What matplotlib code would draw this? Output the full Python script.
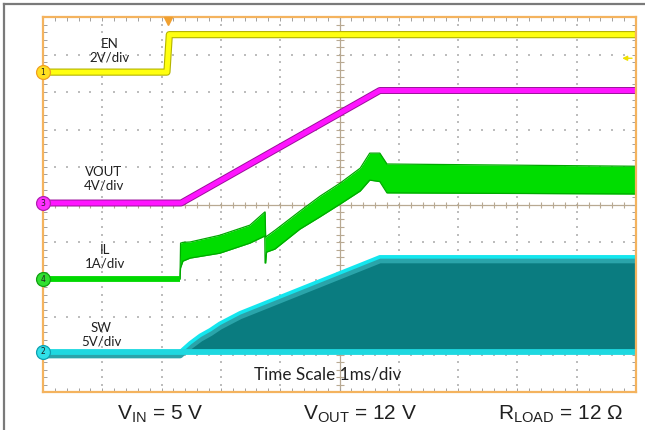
import numpy as np
import matplotlib
matplotlib.use("Agg")
import matplotlib.pyplot as plt
from matplotlib.lines import Line2D

# ---------------- data (time in ms, 1 ms/div) ----------------
EN_t = [0, 2.09, 2.13, 10]
EN_v = [0, 0, 2.0, 2.0]              # V, 2 V/div

VOUT_t = [0, 2.33, 5.68, 10]
VOUT_v = [0, 0, 12.0, 12.0]          # V, 4 V/div

IL_t  = [0, 2.31, 2.32, 2.36, 2.48, 2.98, 3.49, 3.74, 3.745, 3.755, 3.77, 3.91, 4.33, 4.67, 5.01, 5.35, 5.51, 5.68, 5.80, 10]
IL_hi = [0, 0, 0.96, 0.98, 0.99, 1.17, 1.44, 1.79, 1.79, 1.12, 1.14, 1.30, 1.81, 2.21, 2.56, 2.96, 3.36, 3.36, 3.07, 3.01]
IL_lo = [0, 0, 0.30, 0.48, 0.56, 0.69, 0.96, 1.15, 0.43, 0.43, 0.72, 0.80, 1.33, 1.66, 2.00, 2.35, 2.64, 2.60, 2.30, 2.27]   # A, 1 A/div

SW_t  = [0, 2.31, 2.48, 2.65, 2.82, 2.98, 3.32, 5.68, 10]
SW_hi = [0, 0, 1.2, 2.2, 2.95, 3.8, 5.2, 12.67, 12.67]     # V, 5 V/div

labels = ["EN\n2V/div", "VOUT\n4V/div", "IL\n1A/div", "SW\n5V/div"]
time_label = "Time Scale 1ms/div"
cond_labels = [r"$\mathregular{V_{IN}}$ = 5 V", r"$\mathregular{V_{OUT}}$ = 12 V", r"$\mathregular{R_{LOAD}}$ = 12 Ω"]

# channel offsets (divisions) and scales (units/div)
EN_off, EN_sc = 8.53, 2.0
VO_off, VO_sc = 5.04, 4.0
IL_off, IL_sc = 3.01, 1.0
SW_off, SW_sc = 1.07, 5.0

W, H = 645, 430
fig = plt.figure(figsize=(W / 100, H / 100), dpi=100)
fig.patch.set_facecolor("white")

# outer gray border (top + left visible)
fig.add_artist(Line2D([4 / W, 1.0], [1 - 4 / H, 1 - 4 / H], color="#7a7a7a", lw=1.6))
fig.add_artist(Line2D([4 / W, 4 / W], [0, 1 - 4 / H], color="#7a7a7a", lw=1.6))

ax = fig.add_axes([43 / W, 38 / H, 593 / W, 375 / H])
ax.set_xlim(0, 10)
ax.set_ylim(0, 10)
ax.set_facecolor("white")
for s in ax.spines.values():
    s.set_color("#f4b35e")
    s.set_linewidth(1.6)
    s.set_zorder(6)
ax.set_xticks(np.arange(0, 10.01, 0.2))
ax.set_yticks(np.arange(0, 10.01, 0.2))
ax.tick_params(which="both", direction="in", length=3, width=0.7, color="#a0a0a0",
               top=True, right=True, labelbottom=False, labelleft=False)

# dotted grid
pts = np.arange(0, 10.001, 0.2)
for k in range(1, 10):
    if k == 5:
        continue
    ax.scatter(pts, np.full_like(pts, k), s=0.9, marker="s", color="#bdbdbd", lw=0, zorder=1)
    ax.scatter(np.full_like(pts, k), pts, s=0.9, marker="s", color="#bdbdbd", lw=0, zorder=1)
# center lines with ticks
ax.axhline(5, color="#b8a992", lw=0.9, zorder=1)
ax.axvline(5, color="#b8a992", lw=0.9, zorder=1)
ax.plot(pts, np.full_like(pts, 5), ls="none", marker="|", ms=5, mew=0.8, color="#b8a992", zorder=1)
ax.plot(np.full_like(pts, 5), pts, ls="none", marker="_", ms=6, mew=0.8, color="#b8a992", zorder=1)

# ---------------- traces ----------------
t = np.array
# SW
sw_t = t(SW_t); sw_y = SW_off + t(SW_hi) / SW_sc
ax.fill_between(sw_t, SW_off, sw_y, color="#0a7c80", lw=0, zorder=2)
ax.plot(sw_t, sw_y - 0.08, color="#2aa4aa", lw=5, solid_capstyle="butt", zorder=2)
ax.plot(sw_t, sw_y, color="#14e6ee", lw=2.6, solid_capstyle="butt", zorder=3)
ax.plot([0, 10], [SW_off, SW_off], color="#1ed8e0", lw=4.2, solid_capstyle="butt", zorder=3)

# IL
il_t = t(IL_t)
il_hi = IL_off + t(IL_hi) / IL_sc
il_lo = IL_off + t(IL_lo) / IL_sc
ax.fill_between(il_t, il_lo, il_hi, color="#00dd00", lw=0, zorder=3)
ax.plot(il_t, il_hi, color="#00a800", lw=0.9, zorder=3)
ax.plot(il_t, il_lo, color="#00a800", lw=0.9, zorder=3)
ax.plot([0, IL_t[1]], [IL_off, IL_off], color="#00d800", lw=4.2, solid_capstyle="butt", zorder=3)

# VOUT
vo_y = VO_off + t(VOUT_v) / VO_sc
ax.plot(VOUT_t, vo_y, color="#9a109a", lw=5.0, solid_capstyle="butt", zorder=4)
ax.plot(VOUT_t, vo_y, color="#ff14ff", lw=3.6, solid_capstyle="butt", zorder=4)

# EN
en_y = EN_off + t(EN_v) / EN_sc
ax.plot(EN_t, en_y, color="#b4b400", lw=5.2, solid_capstyle="butt", zorder=4)
ax.plot(EN_t, en_y, color="#ffff10", lw=3.6, solid_capstyle="butt", zorder=4)

# trigger marker and level arrow
ax.plot([2.1], [9.9], marker="v", ms=6, color="#f0a030", mec="#f0a030", clip_on=False, zorder=7)
ax.annotate("", xy=(9.72, 8.9), xytext=(9.98, 8.9),
            arrowprops=dict(arrowstyle="-|>", color="#f0e000", lw=1.0, mutation_scale=7), zorder=7)

# channel markers
chans = [("1", EN_off, "#ffe020", "#f0a020"), ("3", VO_off, "#ff30ff", "#b020b0"),
         ("4", IL_off, "#30e030", "#10a010"), ("2", SW_off, "#30e0e8", "#10a0b0")]
for num, off, fc, ec in chans:
    ax.plot([0], [off], marker="o", ms=10, mfc=fc, mec=ec, mew=0.9, clip_on=False, zorder=8)
    ax.text(0, off, num, ha="center", va="center", fontsize=5.5, color="#202020",
            family="DejaVu Sans", zorder=9, clip_on=False)

# channel labels
lab_pos = [(110, 51), (104, 179), (105, 257), (101, 335)]
for txt, (x, y) in zip(labels, lab_pos):
    fig.text(x / W, 1 - y / H, txt, ha="center", va="center", fontsize=9.5,
             family="Lato", color="#202020", linespacing=1.15, zorder=10)

fig.text(328 / W, 1 - 375 / H, time_label, ha="center", va="center", fontsize=12.3,
         family="Lato", color="#202020", zorder=10)

cond_pos = [160, 360, 561]
for txt, x in zip(cond_labels, cond_pos):
    fig.text(x / W, 1 - 414 / H, txt, ha="center", va="center", fontsize=15,
             family=["Liberation Sans", "DejaVu Sans"], color="#202020")

fig.savefig("out.png", dpi=100)
